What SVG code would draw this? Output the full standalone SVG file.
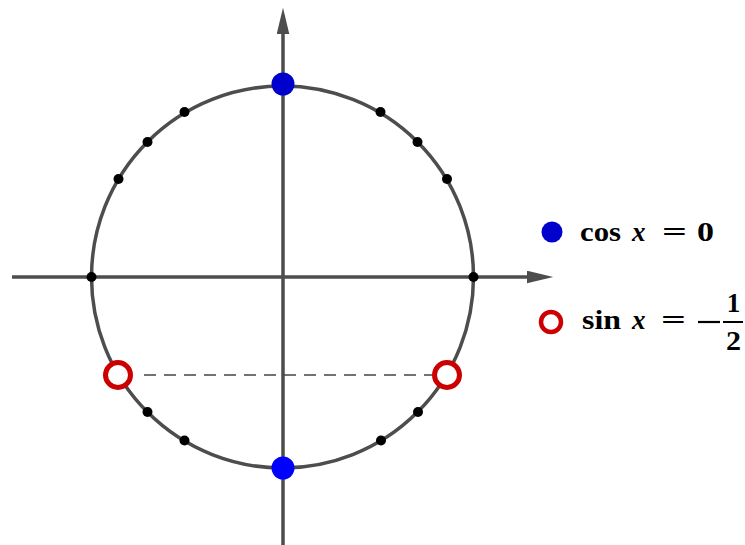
<svg xmlns="http://www.w3.org/2000/svg" width="745" height="545" viewBox="0 0 745 545">
<style>
.ax{stroke:#4d4d4d;stroke-width:3.5;fill:none}
.dot{fill:#000}
.ring{fill:#fff;stroke:#cc0000;stroke-width:5}
.t{font-family:"Liberation Serif","DejaVu Serif",serif;font-weight:bold;font-size:27px;fill:#000}
.it{font-style:italic}
</style>
<defs>
<marker id="ah" markerWidth="8" markerHeight="4" refX="0" refY="1.8" orient="auto" markerUnits="strokeWidth">
<path d="M0,0 L7.5,1.8 L0,3.6 Z" fill="#4d4d4d"/>
</marker>
</defs>
<rect width="745" height="545" fill="#fff"/>
<g id="connectors">
<line class="ax" x1="12" y1="277" x2="527" y2="277" marker-end="url(#ah)"/>
<line class="ax" x1="283" y1="545" x2="283" y2="34" marker-end="url(#ah)"/>
<ellipse class="ax" cx="282.5" cy="277" rx="191" ry="191"/>
<line x1="144" y1="375" x2="432" y2="375" stroke="#444" stroke-width="1.3" stroke-dasharray="12,8"/>
</g>
<g id="points">
<circle class="dot" cx="447" cy="179" r="5"/>
<circle class="dot" cx="417.5" cy="142" r="5"/>
<circle class="dot" cx="380.5" cy="112" r="5"/>
<circle class="dot" cx="184.5" cy="112" r="5"/>
<circle class="dot" cx="147.5" cy="142" r="5"/>
<circle class="dot" cx="118.5" cy="179" r="5"/>
<circle class="dot" cx="91.5" cy="277" r="5"/>
<circle class="dot" cx="473.5" cy="277" r="5"/>
<circle class="dot" cx="147.5" cy="412" r="5"/>
<circle class="dot" cx="184.5" cy="440.5" r="5"/>
<circle class="dot" cx="381" cy="440.5" r="5"/>
<circle class="dot" cx="418" cy="412" r="5"/>
<circle cx="283" cy="84" r="11.5" fill="#0000cc"/>
<circle cx="283" cy="468" r="11.5" fill="#0000ff"/>
<circle class="ring" cx="118" cy="375" r="12.5"/>
<circle class="ring" cx="447" cy="375" r="12.5"/>
</g>
<g id="legend-cos">
<circle cx="552" cy="232" r="10.5" fill="#0000cc"/>
<text class="t" x="580" y="241" textLength="41" lengthAdjust="spacingAndGlyphs">cos</text>
<text class="t it" x="632" y="241" font-size="29">x</text>
<text class="t" x="662" y="241" textLength="25" lengthAdjust="spacingAndGlyphs">=</text>
<text class="t" x="697" y="241" font-size="29" textLength="17" lengthAdjust="spacingAndGlyphs">0</text>
</g>
<g id="legend-sin">
<circle cx="551" cy="322" r="10" fill="#fff" stroke="#cc0000" stroke-width="4.5"/>
<text class="t" x="582" y="329" textLength="39" lengthAdjust="spacingAndGlyphs">sin</text>
<text class="t it" x="632" y="329" font-size="29">x</text>
<text class="t" x="661" y="329" textLength="25" lengthAdjust="spacingAndGlyphs">=</text>
<line x1="698" y1="322" x2="720" y2="322" stroke="#000" stroke-width="2.2"/>
<text class="t" x="733.5" y="312" text-anchor="middle" font-size="26">1</text>
<line x1="723" y1="322" x2="743" y2="322" stroke="#000" stroke-width="2"/>
<text class="t" x="726" y="350" font-size="27" textLength="15" lengthAdjust="spacingAndGlyphs">2</text>
</g>
</svg>
